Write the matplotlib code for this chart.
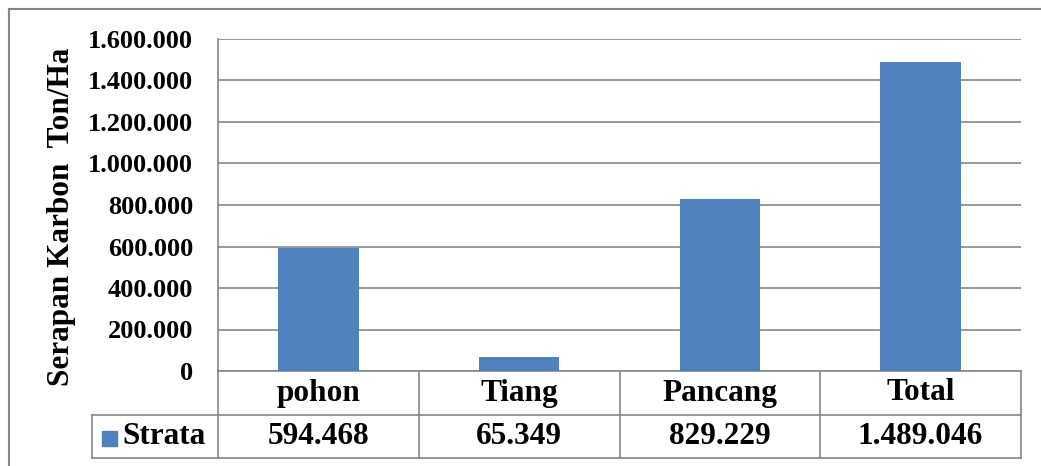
import matplotlib.pyplot as plt
from matplotlib.lines import Line2D
from matplotlib.patches import Rectangle
from matplotlib.ticker import FuncFormatter
import matplotlib.transforms as mtransforms

categories = ["pohon", "Tiang", "Pancang", "Total"]
values = [594468, 65349, 829229, 1489046]
series_name = "Strata"
value_labels = ["594.468", "65.349", "829.229", "1.489.046"]

bar_color = "#4F81BD"
line_color = "#868686"

plt.rcParams["font.family"] = ["Liberation Serif", "DejaVu Serif"]
plt.rcParams["font.weight"] = "bold"

W, H = 1041, 466
fig = plt.figure(figsize=(W / 100, H / 100), dpi=100)

# plot area in pixel coordinates
left, right, top, zero = 218, 1021, 39, 371
ax = fig.add_axes([left / W, (H - zero) / H, (right - left) / W, (zero - top) / H])

x = list(range(len(categories)))
ax.bar(x, values, width=0.4, color=bar_color, zorder=3)
ax.set_xlim(-0.5, len(categories) - 0.5)
ax.set_ylim(0, 1600000)
ax.set_yticks(range(0, 1600001, 200000))
ax.yaxis.set_major_formatter(FuncFormatter(lambda v, p: f"{int(v):,}".replace(",", ".")))
ax.tick_params(axis="y", length=0, pad=18, labelsize=19)
ax.set_xticks([])
ax.grid(axis="y", color=line_color, linewidth=1.2, zorder=0)
for s in ["top", "right", "bottom"]:
    ax.spines[s].set_visible(False)
ax.spines["left"].set_color(line_color)
ax.spines["left"].set_linewidth(1.2)

fig.text(62 / W, (H - 217) / H, "Serapan Karbon  Ton/Ha", rotation=90,
         ha="center", va="center", fontsize=22.5, fontweight="bold")

# data table under the plot
ph = zero - top
row1 = -(415 - zero) / ph
row2 = -(458 - zero) / ph
leg_x = (92 - left) / (right - left)
trans = mtransforms.blended_transform_factory(ax.transData, ax.transAxes)
lk = dict(color=line_color, linewidth=1.2, clip_on=False)

ax.add_line(Line2D([0, 1], [0, 0], transform=ax.transAxes, **lk))
ax.add_line(Line2D([leg_x, 1], [row1, row1], transform=ax.transAxes, **lk))
ax.add_line(Line2D([leg_x, 1], [row2, row2], transform=ax.transAxes, **lk))
ax.add_line(Line2D([leg_x, leg_x], [row1, row2], transform=ax.transAxes, **lk))
ax.add_line(Line2D([0, 0], [0, row2], transform=ax.transAxes, **lk))
for b in range(1, len(categories) + 1):
    ax.add_line(Line2D([b - 0.5, b - 0.5], [0, row2], transform=trans, **lk))

for i, (c, v) in enumerate(zip(categories, value_labels)):
    ax.text(i, row1 / 2, c, transform=trans, ha="center", va="center",
            fontsize=22.5, fontweight="bold")
    ax.text(i, (row1 + row2) / 2, v, transform=trans, ha="center", va="center",
            fontsize=22.5, fontweight="bold")

# legend key inside the table
fig.patches.append(Rectangle((102 / W, (H - 446) / H), 15 / W, 15 / H,
                             transform=fig.transFigure, color=bar_color))
fig.text(122 / W, (H - 436.5) / H, series_name, ha="left", va="center",
         fontsize=22.5, fontweight="bold")

# chart border
fig.add_artist(Line2D([9 / W, 9 / W], [0, (H - 9) / H], transform=fig.transFigure,
                      color=line_color, linewidth=1.5))
fig.add_artist(Line2D([9 / W, 1], [(H - 9) / H, (H - 9) / H], transform=fig.transFigure,
                      color=line_color, linewidth=1.5))

fig.savefig("out.png", dpi=100)
